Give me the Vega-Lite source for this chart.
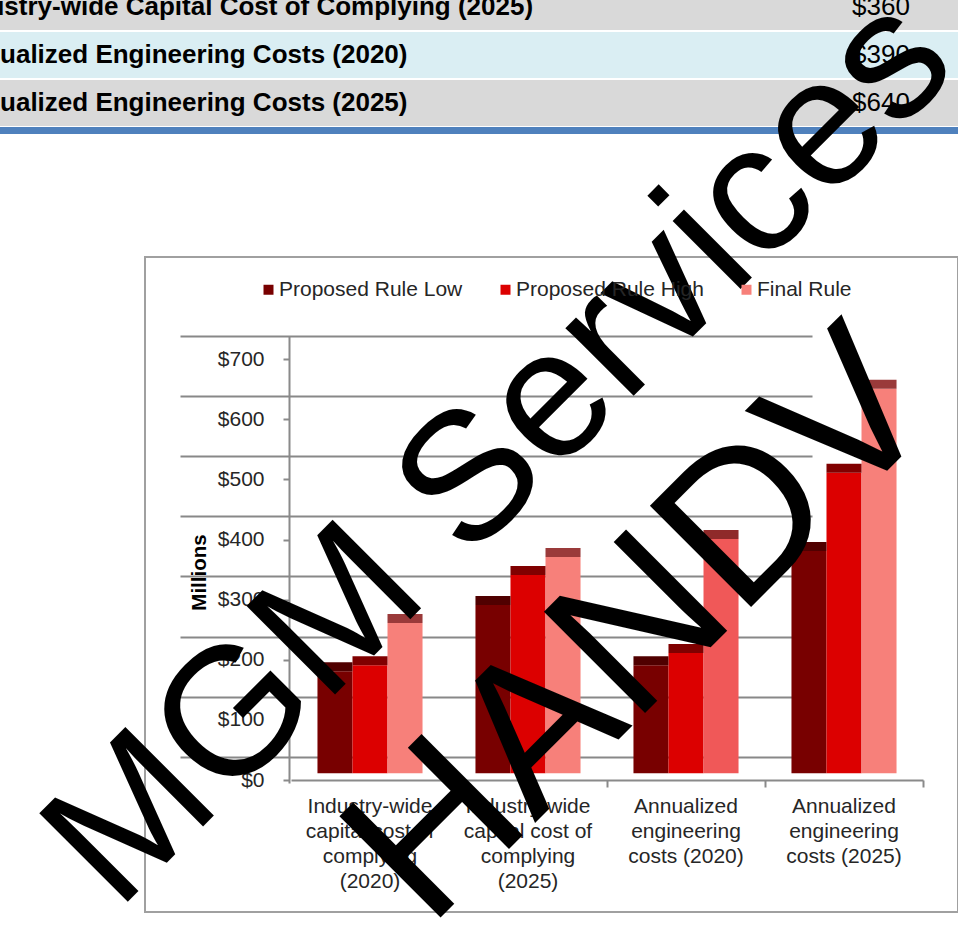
{
  "$schema": "https://vega.github.io/schema/vega-lite/v6.json",
  "width": 813,
  "height": 655,
  "autosize": {"type": "none"},
  "padding": {"left": 145, "top": 257, "right": 0, "bottom": 28},
  "background": "white",
  "config": {
    "view": {"stroke": "#a0a0a0", "strokeWidth": 2},
    "axis": {"labelFont": "Liberation Sans", "titleFont": "Liberation Sans"},
    "legend": {"labelFont": "Liberation Sans"}
  },
  "datasets": {
    "costs": [
      {"category": "Industry-wide capital cost of complying (2020)", "series": "Proposed Rule Low", "value": 170},
      {"category": "Industry-wide capital cost of complying (2020)", "series": "Proposed Rule High", "value": 180},
      {"category": "Industry-wide capital cost of complying (2020)", "series": "Final Rule", "value": 250},
      {"category": "Industry-wide capital cost of complying (2025)", "series": "Proposed Rule Low", "value": 280},
      {"category": "Industry-wide capital cost of complying (2025)", "series": "Proposed Rule High", "value": 330},
      {"category": "Industry-wide capital cost of complying (2025)", "series": "Final Rule", "value": 360},
      {"category": "Annualized engineering costs (2020)", "series": "Proposed Rule Low", "value": 180},
      {"category": "Annualized engineering costs (2020)", "series": "Proposed Rule High", "value": 200},
      {"category": "Annualized engineering costs (2020)", "series": "Final Rule", "value": 390},
      {"category": "Annualized engineering costs (2025)", "series": "Proposed Rule Low", "value": 370},
      {"category": "Annualized engineering costs (2025)", "series": "Proposed Rule High", "value": 500},
      {"category": "Annualized engineering costs (2025)", "series": "Final Rule", "value": 640}
    ],
    "table": [
      {"row": 1, "label": "Industry-wide Capital Cost of Complying (2025)", "amount": "$360"},
      {"row": 2, "label": "Annualized Engineering Costs (2020)", "amount": "$390"},
      {"row": 3, "label": "Annualized Engineering Costs (2025)", "amount": "$640"}
    ]
  },
  "resolve": {"scale": {"y": "independent", "x": "independent"}},
  "layer": [
    {
      "data": {"name": "table"},
      "layer": [
        {
          "mark": {"type": "rect"},
          "encoding": {
            "y": {"field": "row", "type": "ordinal", "scale": {"domain": [1, 2, 3], "range": [-274, -130], "paddingInner": 0.0417, "paddingOuter": 0.0208}, "axis": null},
            "x": {"value": -145},
            "x2": {"value": "width"},
            "fill": {"condition": {"test": "datum.row === 2", "value": "#daeef3"}, "value": "#d9d9d9"}
          }
        },
        {
          "mark": {"type": "text", "font": "Liberation Sans", "align": "left", "baseline": "middle", "fontSize": 26, "fontWeight": "bold", "fill": "#000000"},
          "encoding": {
            "y": {"field": "row", "type": "ordinal"},
            "x": {"value": -195.5},
            "text": {"field": "label"}
          }
        },
        {
          "mark": {"type": "text", "font": "Liberation Sans", "align": "left", "baseline": "middle", "fontSize": 26, "fill": "#000000"},
          "encoding": {
            "y": {"field": "row", "type": "ordinal"},
            "x": {"value": 707},
            "text": {"field": "amount"}
          }
        }
      ]
    },
    {
      "data": {"values": [{"line": "table rule"}]},
      "mark": {"type": "rule", "color": "#4f81bd", "strokeWidth": 7},
      "encoding": {"x": {"value": -145}, "x2": {"value": "width"}, "y": {"value": -126.5}}
    },
    {
      "data": {"name": "costs"},
      "resolve": {"axis": {"y": "independent", "x": "independent"}},
      "layer": [
        {
          "mark": {"type": "bar"},
          "encoding": {
            "x": {
              "field": "category", "type": "nominal",
              "sort": ["Industry-wide capital cost of complying (2020)", "Industry-wide capital cost of complying (2025)", "Annualized engineering costs (2020)", "Annualized engineering costs (2025)"],
              "scale": {"range": [146, 778], "paddingInner": 0.335, "paddingOuter": 0.1675},
              "axis": {
                "orient": "bottom", "offset": -132, "title": null, "ticks": false,
                "domainColor": "#8a8a8a", "domainWidth": 2,
                "labelFontSize": 21, "labelColor": "#262626", "labelAngle": 0, "labelPadding": 15, "labelLineHeight": 25, "labelLimit": 0,
                "grid": false,
                "labelExpr": "datum.value === 'Industry-wide capital cost of complying (2020)' ? ['Industry-wide', 'capital cost of', 'complying', '(2020)'] : datum.value === 'Industry-wide capital cost of complying (2025)' ? ['Industry-wide', 'capital cost of', 'complying', '(2025)'] : datum.value === 'Annualized engineering costs (2020)' ? ['Annualized', 'engineering', 'costs (2020)'] : ['Annualized', 'engineering', 'costs (2025)']"
              }
            },
            "xOffset": {"field": "series", "type": "nominal", "sort": ["Proposed Rule Low", "Proposed Rule High", "Final Rule"], "scale": {"paddingInner": 0, "paddingOuter": 0}},
            "y": {
              "field": "value", "type": "quantitative",
              "scale": {"domain": [-16.1, 727.6], "range": [526, 79], "nice": false, "zero": false},
              "axis": {
                "orient": "left", "offset": -144, "values": [0, 100, 200, 300, 400, 500, 600, 700],
                "labelExpr": "'$' + datum.value", "tickOffset": 6.7, "grid": false,
                "domainColor": "#8a8a8a", "domainWidth": 2, "tickColor": "#8a8a8a", "tickWidth": 2, "tickSize": 6,
                "labelFontSize": 21, "labelColor": "#262626", "labelPadding": 19,
                "title": "Millions", "titleFontSize": 20.5, "titleFontWeight": "bold", "titleColor": "#000000",
                "titleX": -90, "titleY": 315, "titleAngle": -90, "titleBaseline": "middle", "titleAlign": "center"
              }
            },
            "y2": {"datum": 0},
            "color": {
              "field": "series", "type": "nominal",
              "condition": {"test": "datum.category === 'Annualized engineering costs (2020)' && datum.series === 'Final Rule'", "value": "#f05858"},
              "scale": {"domain": ["Proposed Rule Low", "Proposed Rule High", "Final Rule"], "range": ["#780000", "#dc0000", "#f7807a"]},
              "legend": {
                "orient": "none", "legendX": 113, "legendY": 22, "direction": "horizontal", "title": null,
                "symbolType": "square", "symbolSize": 100, "symbolStrokeWidth": 0, "labelLimit": 0,
                "labelFontSize": 21, "labelColor": "#262626", "columnPadding": 32, "labelOffset": 0, "padding": 0
              }
            }
          }
        },
        {
          "mark": {"type": "bar", "yOffset": -9},
          "encoding": {
            "x": {
              "field": "category", "type": "nominal",
              "sort": ["Industry-wide capital cost of complying (2020)", "Industry-wide capital cost of complying (2025)", "Annualized engineering costs (2020)", "Annualized engineering costs (2025)"],
              "axis": {
                "orient": "bottom", "offset": -132, "title": null, "labels": false, "domain": false, "grid": false,
                "bandPosition": 1, "tickOffset": 26.5, "tickColor": "#8a8a8a", "tickWidth": 2, "tickSize": 7
              }
            },
            "xOffset": {"field": "series", "type": "nominal", "sort": ["Proposed Rule Low", "Proposed Rule High", "Final Rule"]},
            "y": {
              "field": "value", "type": "quantitative",
              "axis": {
                "orient": "right", "values": [0, 100, 200, 300, 400, 500, 600, 700], "grid": true,
                "gridColor": "#888888", "gridWidth": 2, "tickOffset": -16.6,
                "labels": false, "ticks": false, "domain": false, "title": null
              }
            },
            "y2": {"field": "value"},
            "fill": {
              "condition": [
                {"test": "datum.series === 'Proposed Rule Low'", "value": "#500000"},
                {"test": "datum.series === 'Proposed Rule High'", "value": "#800000"},
                {"test": "datum.category === 'Annualized engineering costs (2020)'", "value": "#8f2a2a"}
              ],
              "value": "#9a3a3a"
            }
          }
        }
      ]
    },
    {
      "data": {"values": [{"text": "MGM Services"}]},
      "mark": {"type": "text", "font": "Liberation Sans", "fontSize": 182, "angle": -45, "align": "center", "baseline": "alphabetic", "fill": "#000000"},
      "encoding": {"text": {"field": "text"}, "x": {"value": 394}, "y": {"value": 233.5}}
    },
    {
      "data": {"values": [{"text": "HANDV"}]},
      "mark": {"type": "text", "font": "Liberation Sans", "fontSize": 208, "angle": -45, "align": "center", "baseline": "alphabetic", "fill": "#000000"},
      "encoding": {"text": {"field": "text"}, "x": {"value": 541}, "y": {"value": 415}}
    }
  ]
}
